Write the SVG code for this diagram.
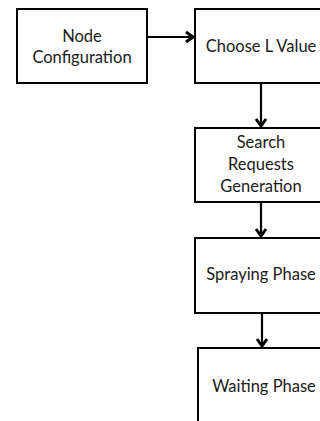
<svg xmlns="http://www.w3.org/2000/svg" width="320" height="421" viewBox="0 0 320 421">
  <defs>
    <style>
      .box { fill: #ffffff; stroke: #000000; stroke-width: 2; }
      .lbl { font-family: "Lato", "Liberation Sans", sans-serif; font-size: 16.5px; fill: #1a1a1a; text-anchor: middle; }
      .wire { stroke: #000000; stroke-width: 2.2; fill: none; }
      .head { stroke: #000000; stroke-width: 3; fill: none; stroke-linejoin: miter; }
    </style>
  </defs>
  <rect width="320" height="421" fill="#ffffff"/>

  <g id="node-configuration">
    <rect class="box" x="17" y="9" width="130" height="74"/>
    <text class="lbl" x="82" y="42">Node</text>
    <text class="lbl" x="82" y="63">Configuration</text>
  </g>

  <g id="choose-l-value">
    <rect class="box" x="195" y="9" width="130" height="74"/>
    <text class="lbl" x="261" y="52">Choose L Value</text>
  </g>

  <g id="search-requests-generation">
    <rect class="box" x="195" y="128" width="130" height="74"/>
    <text class="lbl" x="261" y="148">Search</text>
    <text class="lbl" x="261" y="170">Requests</text>
    <text class="lbl" x="261" y="192">Generation</text>
  </g>

  <g id="spraying-phase">
    <rect class="box" x="195" y="238" width="130" height="75"/>
    <text class="lbl" x="261" y="280">Spraying Phase</text>
  </g>

  <g id="waiting-phase">
    <rect class="box" x="198" y="348" width="130" height="80"/>
    <text class="lbl" x="264" y="392">Waiting Phase</text>
  </g>

  <g id="connectors">
    <line class="wire" x1="147" y1="37" x2="193" y2="37"/>
    <polyline class="head" points="186,32 193,37 186,42"/>
    <line class="wire" x1="261" y1="83" x2="261" y2="126"/>
    <polyline class="head" points="256,119 261,126 266,119"/>
    <line class="wire" x1="261" y1="202" x2="261" y2="236"/>
    <polyline class="head" points="256,229 261,236 266,229"/>
    <line class="wire" x1="262" y1="313" x2="262" y2="346"/>
    <polyline class="head" points="257,339 262,346 267,339"/>
  </g>
</svg>
